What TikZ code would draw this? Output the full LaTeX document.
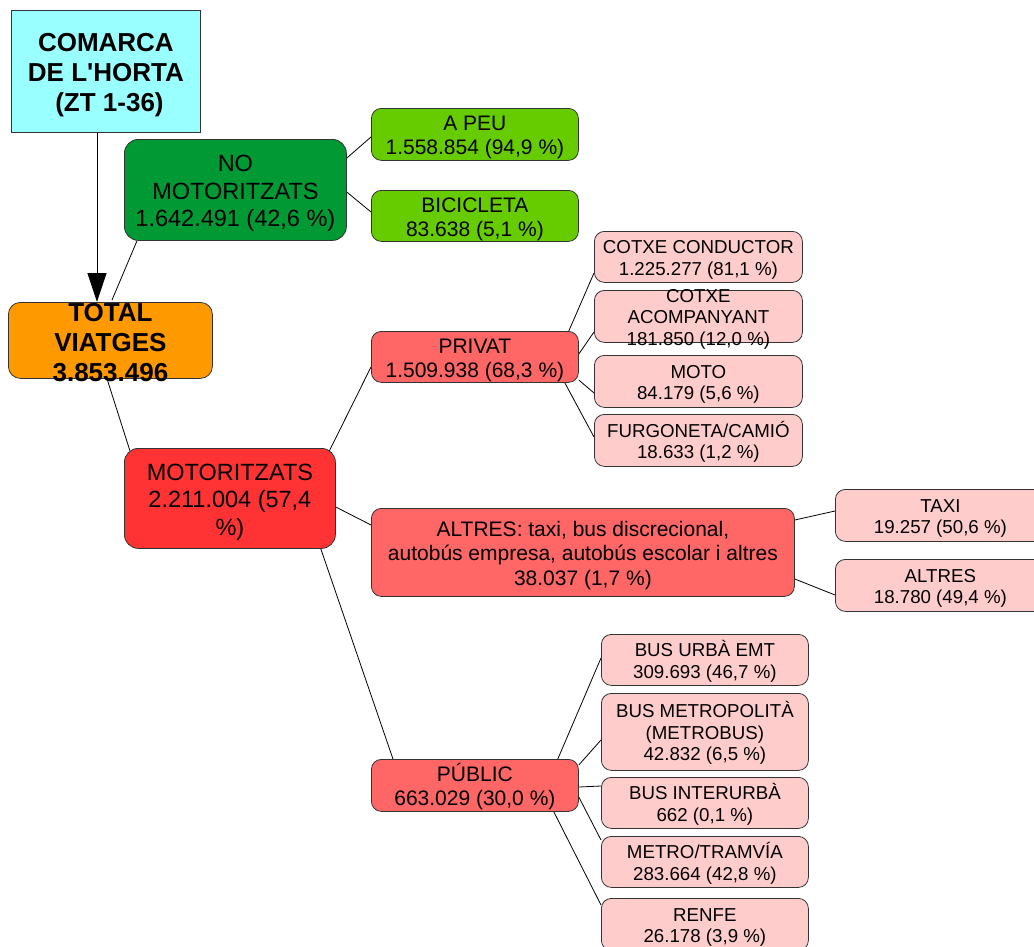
\documentclass[tikz,border=0pt]{standalone}
\usepackage{fontspec}
\setmainfont{Liberation Sans}
\usetikzlibrary{arrows.meta,calc,backgrounds}
\definecolor{cyanbox}{HTML}{99FFFF}
\definecolor{orangebox}{HTML}{FF9900}
\definecolor{darkgreen}{HTML}{009933}
\definecolor{lightgreen}{HTML}{66CC00}
\definecolor{redbox}{HTML}{FF3333}
\definecolor{midred}{HTML}{FF6666}
\definecolor{pinkbox}{HTML}{FFCCCC}
\definecolor{edge}{HTML}{333333}
\newcommand\tS{\rule{0pt}{1.0em}}
\newcommand\bS{\rule[-0.17em]{0pt}{0pt}}
\begin{document}
\begin{tikzpicture}[x=1pt,y=-1pt,
  box/.style={draw=edge, line width=0.8pt, anchor=north west, inner sep=0pt, align=center},
  bigbox/.style={box, rounded corners=14pt, font=\fontsize{23.5}{27.3}\selectfont},
  boldbox/.style={box, font=\fontsize{26}{30}\selectfont\bfseries},
  midbox/.style={box, rounded corners=10pt, font=\fontsize{21}{24.3}\selectfont},
  smallbox/.style={box, rounded corners=10pt, fill=pinkbox, font=\fontsize{18.7}{21.5}\selectfont},
  conn/.style={draw=black, line width=0.8pt}
]
\useasboundingbox (0,0) rectangle (1034,946);

% main boxes
\node[boldbox, fill=cyanbox, minimum width=189pt, minimum height=122pt] (comarca) at (11,10) {\tS COMARCA\\DE L\textquotesingle HORTA\\\mbox{}\ (ZT 1-36)\bS};
\node[box, rounded corners=12pt, fill=orangebox, minimum width=204pt, minimum height=76pt] (total) at (8,302) {};
\node[font=\fontsize{26}{30}\selectfont\bfseries, align=center, inner sep=0pt] (totaltxt) at (total.center) {\tS TOTAL\\VIATGES\\3.853.496\bS};
\node[bigbox, fill=darkgreen, minimum width=222pt, minimum height=101pt] (nomot) at (124,139) {\tS NO\\MOTORITZATS\\1.642.491 (42,6 \%)\bS};
\node[bigbox, fill=redbox, minimum width=211pt, minimum height=100pt] (motor) at (124,448) {\tS MOTORITZATS\\2.211.004 (57,4\\\%)\bS};

% second level
\node[midbox, fill=lightgreen, minimum width=207pt, minimum height=52pt] (apeu) at (371,108) {\tS A PEU\\1.558.854 (94,9 \%)\bS};
\node[midbox, fill=lightgreen, minimum width=207pt, minimum height=51pt] (bici) at (371,190) {\tS BICICLETA\\83.638 (5,1 \%)\bS};
\node[midbox, fill=midred, minimum width=207pt, minimum height=51pt] (privat) at (371,331) {\tS PRIVAT\\1.509.938 (68,3 \%)\bS};
\node[midbox, fill=midred, minimum width=423pt, minimum height=88pt] (altres) at (371,508) {\tS ALTRES: taxi, bus discrecional,\\autobús empresa, autobús escolar i altres\\38.037 (1,7 \%)\bS};
\node[midbox, fill=midred, minimum width=207pt, minimum height=52pt] (publ) at (371,759) {\tS PÚBLIC\\663.029 (30,0 \%)\bS};

% third level
\node[smallbox, minimum width=208pt, minimum height=51pt] (cc) at (594,231) {\tS COTXE CONDUCTOR\\1.225.277 (81,1 \%)\bS};
\node[smallbox, minimum width=208pt, minimum height=52pt] (ca) at (594,290) {};
\node[font=\fontsize{18.7}{21.5}\selectfont, align=center, inner sep=0pt] (catxt) at (ca.center) {\tS COTXE\\ACOMPANYANT\\181.850 (12,0 \%)\bS};
\node[smallbox, minimum width=208pt, minimum height=52pt] (moto) at (594,355) {\tS MOTO\\84.179 (5,6 \%)\bS};
\node[smallbox, minimum width=208pt, minimum height=52pt] (furg) at (594,414) {\tS FURGONETA/CAMIÓ\\18.633 (1,2 \%)\bS};
\node[smallbox, minimum width=210pt, minimum height=52pt] (taxi) at (835,489) {\tS TAXI\\19.257 (50,6 \%)\bS};
\node[smallbox, minimum width=210pt, minimum height=52pt] (alt2) at (835,559) {\tS ALTRES\\18.780 (49,4 \%)\bS};
\node[smallbox, minimum width=207pt, minimum height=51pt] (bu) at (601,634) {\tS BUS URBÀ EMT\\309.693 (46,7 \%)\bS};
\node[smallbox, minimum width=207pt, minimum height=77pt] (bm) at (601,693) {\tS BUS METROPOLITÀ\\(METROBUS)\\42.832 (6,5 \%)\bS};
\node[smallbox, minimum width=207pt, minimum height=51pt] (bi) at (601,777) {\tS BUS INTERURBÀ\\662 (0,1 \%)\bS};
\node[smallbox, minimum width=207pt, minimum height=51pt] (mt) at (601,836) {\tS METRO/TRAMVÍA\\283.664 (42,8 \%)\bS};
\node[smallbox, minimum width=207pt, minimum height=52pt] (renfe) at (601,898) {\tS RENFE\\26.178 (3,9 \%)\bS};

\begin{scope}[on background layer]
\draw[conn, -{Triangle[length=29pt,width=19pt]}] ($(comarca.south west)+(86,0)$) -- ($(total.north west)+(89,0)$);
\draw[conn] ($(nomot.south west)+(13,0)$) -- ($(total.north west)+(104,-2)$);
\draw[conn] ($(nomot.north east)+(0,19)$) -- ($(apeu.north west)+(0,29)$);
\draw[conn] ($(nomot.north east)+(0,53)$) -- ($(bici.north west)+(0,22)$);
\draw[conn] ($(total.south west)+(99,0)$) -- ($(motor.north west)+(6,3)$);
\draw[conn] ($(motor.north east)+(-7,4)$) -- ($(privat.north west)+(0,36)$);
\draw[conn] ($(motor.north east)+(0,59)$) -- ($(altres.north west)+(0,17)$);
\draw[conn] ($(motor.south east)+(-15,0)$) -- ($(publ.north west)+(22,0)$);
\draw[conn] ($(privat.north east)+(-10,0)$) -- ($(cc.north west)+(0,42)$);
\draw[conn] ($(privat.north east)+(0,23)$) -- ($(ca.north west)+(0,42)$);
\draw[conn] ($(privat.north east)+(0,49)$) -- ($(moto.north west)+(0,38)$);
\draw[conn] ($(privat.south east)+(-14,0)$) -- ($(furg.north west)+(0,23)$);
\draw[conn] ($(altres.north east)+(0,12)$) -- ($(taxi.north west)+(0,22)$);
\draw[conn] ($(altres.north east)+(0,71)$) -- ($(alt2.north west)+(0,36)$);
\draw[conn] ($(publ.north east)+(-21,0)$) -- ($(bu.north west)+(0,24)$);
\draw[conn] ($(publ.north east)+(0,6)$) -- ($(bm.north west)+(0,47)$);
\draw[conn] ($(publ.north east)+(0,28)$) -- ($(bi.north west)+(0,9)$);
\draw[conn] ($(publ.north east)+(0,38)$) -- ($(mt.north west)+(0,4)$);
\draw[conn] ($(publ.south east)+(-25,0)$) -- ($(renfe.north west)+(0,7)$);
\end{scope}
\end{tikzpicture}
\end{document}
